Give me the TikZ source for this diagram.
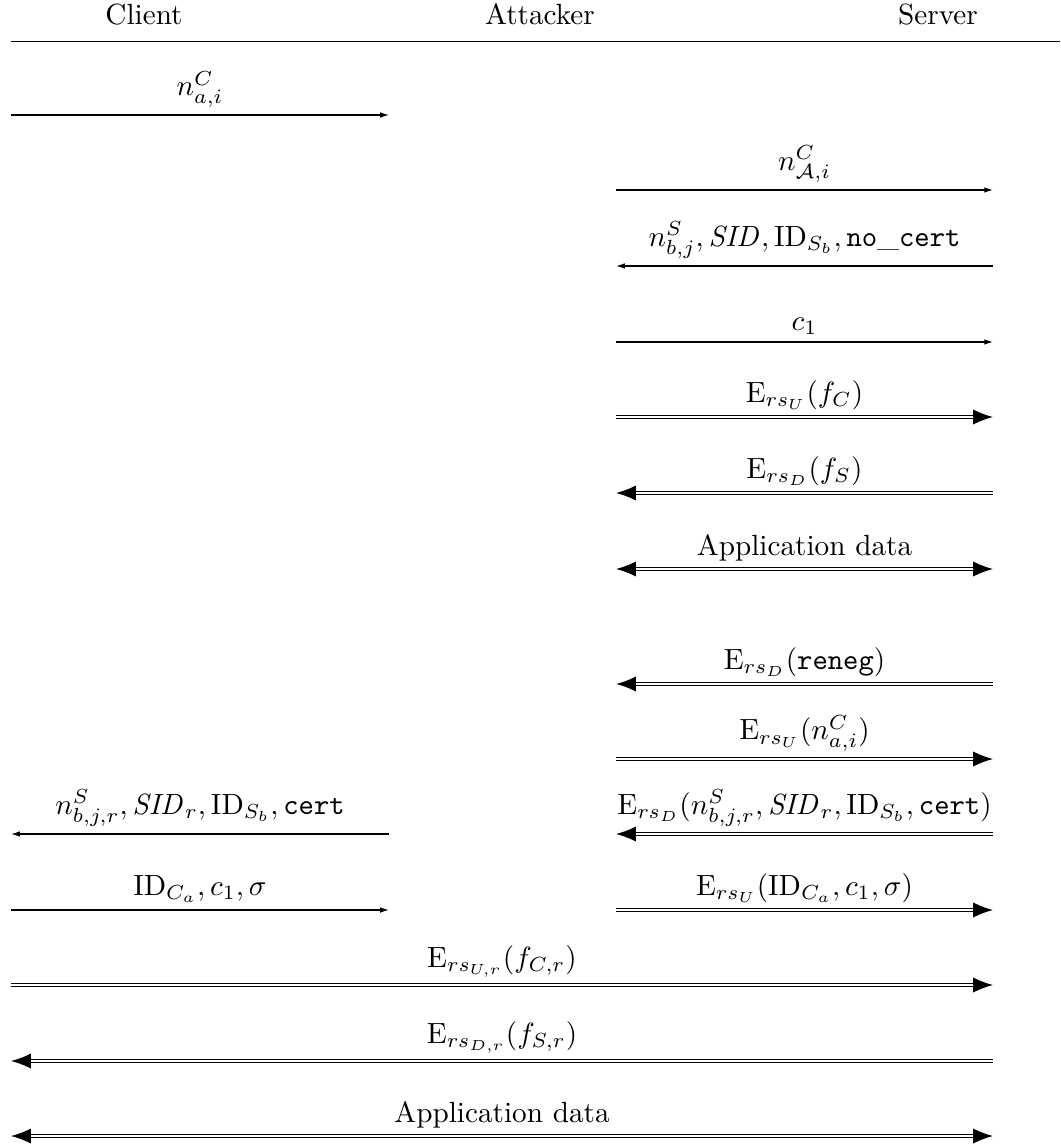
\documentclass[tikz,border=0pt]{standalone}
\usetikzlibrary{arrows.meta}
\begin{document}
\begin{tikzpicture}[x=0.01203cm,y=-0.01203cm,
  msg/.style={line width=0.4pt,-{Latex[length=3pt,width=1.9pt]}},
  emsg/.style={line width=0.45pt,double,double distance=0.55pt,-{Latex[length=6.8pt,width=5.2pt]}},
  emsgb/.style={line width=0.45pt,double,double distance=0.55pt,{Latex[length=6.8pt,width=5.2pt]}-{Latex[length=6.8pt,width=5.2pt]}},
  lbl/.style={midway,above=-0.6pt,inner sep=3pt},
  hdr/.style={inner sep=0pt,anchor=base}]
\useasboundingbox (0,0) rectangle (1060,1146);
% participants
\node[hdr] (client) at (144,25) {Client};
\node[hdr] (attacker) at (540,25) {Attacker};
\node[hdr] (server) at (938,25) {Server};
\coordinate (hl) at (11,41.5);
\coordinate (hr) at (1060,41.5);
\draw[line width=0.4pt] (hl) -- (hr);
% row coordinates
\foreach \n/\y in {1/115,2/190,3/266,4/342,5/417,6/493,7/569,8/684,9/759,10/834,11/910,12/985,13/1061,14/1136}{
  \coordinate (C\n) at (11,\y);
  \coordinate (AL\n) at (389,\y);
  \coordinate (AR\n) at (616,\y);
  \coordinate (S\n) at (993,\y);
}
% messages
\draw[msg] (C1) -- node[lbl] (m1) {$n^C_{a,i}$} (AL1);
\draw[msg] (AR2) -- node[lbl] (m2) {$n^C_{\mathcal{A},i}$} (S2);
\draw[msg] (S3) -- node[lbl] (m3) {$n^S_{b,j}, \mathit{SID}, \mathrm{ID}_{S_b}, \mathtt{no\_cert}$} (AR3);
\draw[msg] (AR4) -- node[lbl] (m4) {$c_1$} (S4);
\draw[emsg] (AR5) -- node[lbl] (m5) {$\mathrm{E}_{rs_U}(f_C)$} (S5);
\draw[emsg] (S6) -- node[lbl] (m6) {$\mathrm{E}_{rs_D}(f_S)$} (AR6);
\draw[emsgb] (AR7) -- node[lbl] (m7) {Application data} (S7);
\draw[emsg] (S8) -- node[lbl] (m8) {$\mathrm{E}_{rs_D}(\mathtt{reneg})$} (AR8);
\draw[emsg] (AR9) -- node[lbl] (m9) {$\mathrm{E}_{rs_U}(n^C_{a,i})$} (S9);
\draw[msg] (AL10) -- node[lbl] (m10l) {$n^S_{b,j,r}, \mathit{SID}_r, \mathrm{ID}_{S_b}, \mathtt{cert}$} (C10);
\draw[emsg] (S10) -- node[lbl] (m10r) {$\mathrm{E}_{rs_D}(n^S_{b,j,r}, \mathit{SID}_r, \mathrm{ID}_{S_b}, \mathtt{cert})$} (AR10);
\draw[msg] (C11) -- node[lbl] (m11l) {$\mathrm{ID}_{C_a}, c_1, \sigma$} (AL11);
\draw[emsg] (AR11) -- node[lbl] (m11r) {$\mathrm{E}_{rs_U}(\mathrm{ID}_{C_a}, c_1, \sigma)$} (S11);
\draw[emsg] (C12) -- node[lbl] (m12) {$\mathrm{E}_{rs_{U,r}}(f_{C,r})$} (S12);
\draw[emsg] (S13) -- node[lbl] (m13) {$\mathrm{E}_{rs_{D,r}}(f_{S,r})$} (C13);
\draw[emsgb] (C14) -- node[lbl] (m14) {Application data} (S14);
\end{tikzpicture}
\end{document}
